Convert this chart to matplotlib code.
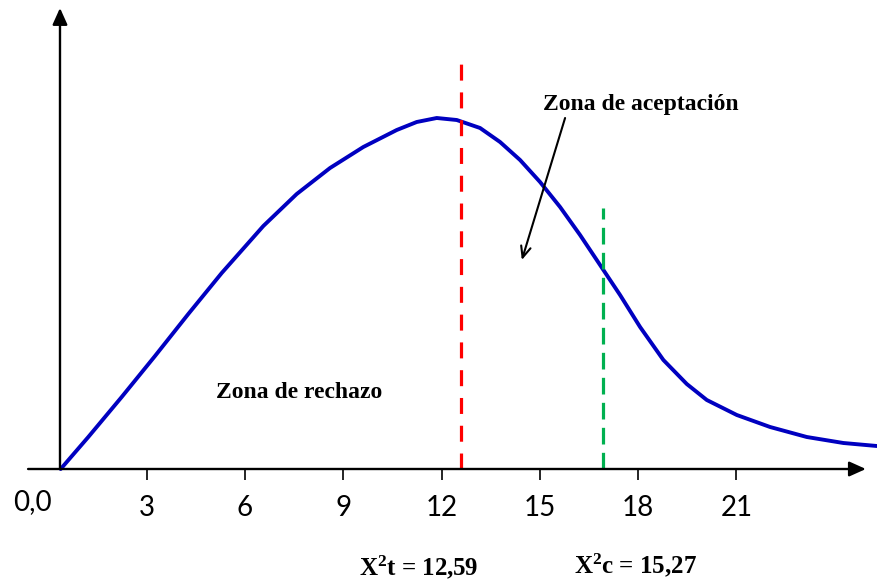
import matplotlib
matplotlib.use("Agg")
import matplotlib.pyplot as plt

# hand-drawn chi-square curve (x in axis units, y arbitrary height)
curve_x = [0.375, 1.218, 2.237, 3.254, 4.270, 5.290, 6.560, 7.579, 8.596,
           9.612, 10.632, 11.242, 11.853, 12.463, 13.175, 13.785, 14.396, 15.006,
           15.617, 16.227, 16.838, 17.448, 18.059, 18.770, 19.484, 20.095, 21.011,
           22.027, 23.147, 24.264, 25.284]
curve_y = [0.0, 0.032, 0.072, 0.113, 0.155, 0.196, 0.243, 0.275, 0.301,
           0.322, 0.339, 0.347, 0.351, 0.349, 0.341, 0.327, 0.309, 0.287,
           0.262, 0.234, 0.204, 0.174, 0.142, 0.109, 0.085, 0.069, 0.054,
           0.042, 0.032, 0.026, 0.023]

ticks = [3, 6, 9, 12, 15, 18, 21]
tick_labels = ["3", "6", "9", "12", "15", "18", "21"]

chi_t = 12.59          # critical value (red line)
chi_c_drawn = 16.93    # where the computed value's line is drawn (green)
chi_t_label = r"X$^{2}$t = 12,59"
chi_c_label = r"X$^{2}$c = 15,27"

plt.rcParams["lines.scale_dashes"] = False
plt.rcParams["mathtext.fontset"] = "custom"
plt.rcParams["mathtext.rm"] = "Liberation Serif:bold"
plt.rcParams["mathtext.it"] = "Liberation Serif:bold"
plt.rcParams["mathtext.bf"] = "Liberation Serif:bold"
serif = ["Liberation Serif", "DejaVu Serif"]

fig = plt.figure(figsize=(8.77, 5.88), dpi=100)
ax = fig.add_axes([0, 0, 1, 1])
ax.set_xlim(-1.477, 25.29)
ax.set_ylim(-0.119, 0.469)
ax.axis("off")

# axes with arrow heads
head = "-|>,head_length=1.0,head_width=0.45"
ax.annotate("", xy=(24.95, 0.0), xytext=(-0.62, 0.0),
            arrowprops=dict(arrowstyle=head, color="black", lw=1.7,
                            shrinkA=0, shrinkB=0))
ax.annotate("", xy=(0.354, 0.461), xytext=(0.354, 0.0),
            arrowprops=dict(arrowstyle=head, color="black", lw=1.7,
                            shrinkA=0, shrinkB=0))

# tick marks and labels
ax.vlines(ticks, -0.011, 0.0, color="black", lw=1.2)
for t, lab in zip(ticks, tick_labels):
    ax.text(t, -0.039, lab, ha="center", va="center", fontsize=20, family="Lato")
ax.text(-0.50, -0.033, "0,0", ha="center", va="center", fontsize=20, family="Lato")

# density curve
ax.plot(curve_x, curve_y, color="#0000C0", lw=2.8, solid_capstyle="round",
        solid_joinstyle="round")

# critical value lines
ax.plot([chi_t, chi_t], [0.0, 0.407], color="#FF0000", lw=2.3,
        dashes=(11.5, 8.5))
ax.plot([chi_c_drawn, chi_c_drawn], [0.0, 0.261], color="#00B050", lw=2.3,
        dashes=(12, 6))

# labels
ax.annotate("", xy=(14.45, 0.209), xytext=(15.77, 0.351),
            arrowprops=dict(arrowstyle="->,head_length=0.8,head_width=0.35",
                            color="black", lw=1.5, shrinkA=0, shrinkB=0))
ax.text(18.08, 0.364, "Zona de aceptación", ha="center", va="center",
        fontsize=17, fontweight="bold", family=serif)
ax.text(7.65, 0.076, "Zona de rechazo", ha="center", va="center",
        fontsize=17, fontweight="bold", family=serif)
ax.text(11.31, -0.098, chi_t_label, ha="center", va="center",
        fontsize=18, fontweight="bold", family=serif)
ax.text(17.91, -0.096, chi_c_label, ha="center", va="center",
        fontsize=18, fontweight="bold", family=serif)

fig.savefig("out.png", dpi=100)
